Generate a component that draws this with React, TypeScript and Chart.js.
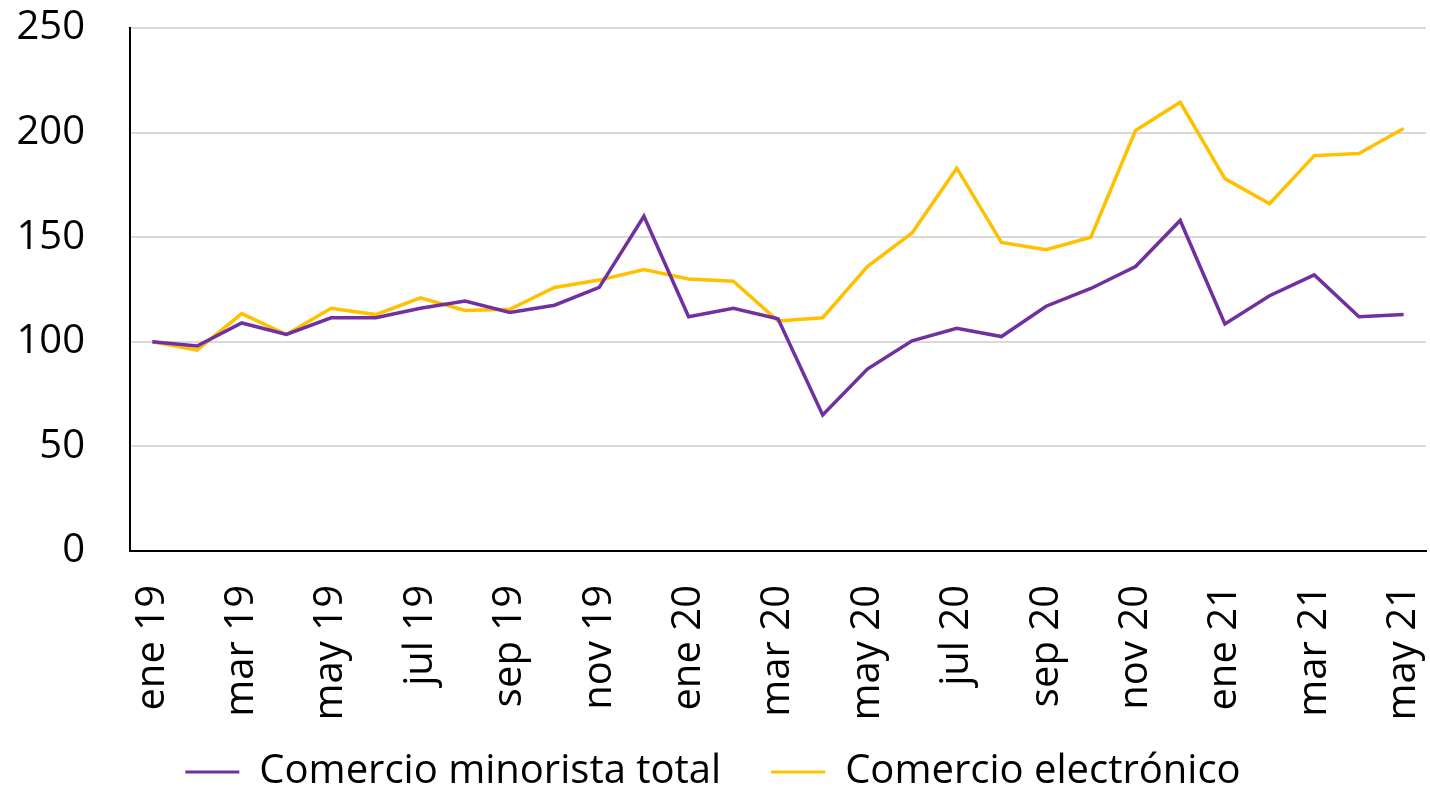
import React, { useEffect, useRef } from "react";
import { Chart, registerables } from "chart.js";

Chart.register(...registerables);

const categories = [
  "ene 19", "feb 19", "mar 19", "abr 19", "may 19", "jun 19", "jul 19", "ago 19", "sep 19", "oct 19", "nov 19", "dic 19",
  "ene 20", "feb 20", "mar 20", "abr 20", "may 20", "jun 20", "jul 20", "ago 20", "sep 20", "oct 20", "nov 20", "dic 20",
  "ene 21", "feb 21", "mar 21", "abr 21", "may 21",
];

const minorista = [
  100, 98, 109, 103.5, 111.5, 111.5, 116, 119.5, 114, 117.5, 126, 160,
  112, 116, 111, 65, 87, 100.5, 106.5, 102.5, 117, 125.5, 136, 158,
  108.5, 122, 132, 112, 113,
];

const electronico = [
  100, 96, 113.5, 103.5, 116, 113, 121, 115, 115.5, 126, 129.5, 134.5,
  130, 129, 110, 111.5, 136, 152, 183, 147.5, 144, 150, 201, 214.5,
  178, 166, 189, 190, 202,
];

const yTicks = [0, 50, 100, 150, 200, 250];

const FONT = "'Open Sans', 'Noto Sans', sans-serif";

const unclipLabels = {
  id: "unclipLabels",
  afterLayout(chart: any) {
    const x = chart.scales.x;
    if (x) x.bottom = chart.height;
  },
};

export default function App() {
  const ref = useRef<HTMLCanvasElement | null>(null);

  useEffect(() => {
    if (!ref.current) return;
    const chart = new Chart(ref.current, {
      type: "line",
      data: {
        labels: categories,
        datasets: [
          {
            label: "Comercio minorista total",
            data: minorista,
            borderColor: "#7030A0",
            backgroundColor: "#7030A0",
            borderWidth: 3.5,
            pointRadius: 0,
            tension: 0,
          },
          {
            label: "Comercio electrónico",
            data: electronico,
            borderColor: "#FFC000",
            backgroundColor: "#FFC000",
            borderWidth: 3.5,
            pointRadius: 0,
            tension: 0,
          },
        ],
      },
      plugins: [unclipLabels],
      options: {
        animation: false,
        responsive: true,
        maintainAspectRatio: false,
        layout: { padding: { top: 28, right: 4, left: 0, bottom: -12 } },
        plugins: {
          tooltip: { enabled: false },
          legend: {
            position: "bottom",
            labels: {
              color: "#000",
              font: { family: FONT, size: 40 },
              boxWidth: 54,
              boxHeight: 3,
              padding: 50,
              generateLabels: (c: any) =>
                c.data.datasets.map((ds: any, i: number) => ({
                  text: ds.label,
                  fillStyle: ds.borderColor,
                  strokeStyle: ds.borderColor,
                  lineWidth: 0,
                  hidden: false,
                  datasetIndex: i,
                  fontColor: "#000",
                })),
            },
          },
        },
        scales: {
          x: {
            offset: true,
            grid: { display: false, drawTicks: false },
            border: { display: true, color: "#000", width: 2 },
            afterFit: (axis: any) => {
              axis.paddingLeft = 0;
              axis.paddingRight = 0;
              axis.height = 151;
            },
            ticks: {
              autoSkip: false,
              maxRotation: 90,
              minRotation: 90,
              padding: 34,
              color: "#000",
              font: { family: FONT, size: 40 },
              callback: (_v: any, i: number) => (i % 2 === 0 ? categories[i] : ""),
            },
          },
          y: {
            min: 0,
            max: 250,
            afterBuildTicks: (axis: any) => {
              axis.ticks = yTicks.map((v) => ({ value: v }));
            },
            afterFit: (axis: any) => {
              axis.width = 130;
              axis.paddingTop = 0;
              axis.paddingBottom = 0;
            },
            grid: { color: "#d9d9d9", lineWidth: 2, drawTicks: false },
            border: { display: true, color: "#000", width: 2 },
            ticks: {
              padding: 45,
              color: "#000",
              font: { family: FONT, size: 40 },
            },
          },
        },
      },
    });
    return () => chart.destroy();
  }, []);

  return (
    <div style={{ position: "absolute", left: 0, top: 0, width: 1430, height: 790 }}>
      <canvas ref={ref} />
    </div>
  );
}
